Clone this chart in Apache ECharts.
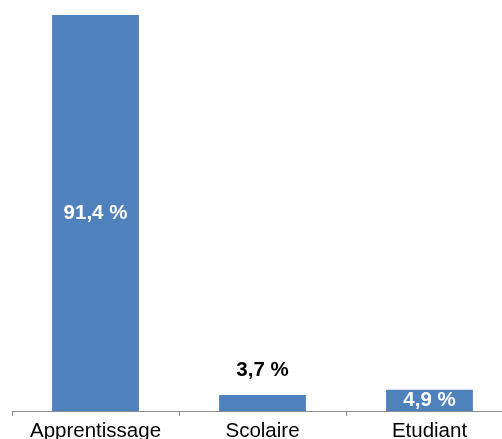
<!DOCTYPE html>
<html>
<head>
<meta charset="utf-8">
<script src="https://cdn.jsdelivr.net/npm/echarts@6/dist/echarts.min.js"></script>
<style>
  html, body { margin: 0; padding: 0; background: #fff; overflow: hidden; }
  #chart { width: 502px; height: 439px; }
</style>
</head>
<body>
<div id="chart"></div>
<script>
var categories = ["Apprentissage", "Scolaire", "Etudiant"];
var values = [91.4, 3.7, 4.9];
// labels inside the bar when it is tall enough, above it otherwise
var labelPositions = ["inside", "top", "inside"];
var labelColors = ["#fff", "#000", "#fff"];

var myChart = echarts.init(document.getElementById("chart"));

var option = {
  animation: false,
  grid: {
    left: 12,
    width: 501,
    top: 15,
    bottom: 28,
    outerBoundsMode: "none",
    containLabel: false,
  },
  xAxis: {
    type: "category",
    data: categories,
    axisLine: { lineStyle: { color: "#8c8c8c", width: 1 } },
    axisTick: { show: true, length: 5, lineStyle: { color: "#8c8c8c", width: 1 } },
    axisLabel: {
      interval: 0,
      fontFamily: "Liberation Sans",
      fontSize: 20.5,
      color: "#000",
      margin: 10,
    },
  },
  yAxis: {
    type: "value",
    min: 0,
    max: function (v) {
      return v.max;
    },
    show: false,
    splitLine: { show: false },
  },
  series: [
    {
      type: "bar",
      barWidth: "52%",
      data: values.map(function (v, i) {
        return {
          value: v,
          label: {
            position: labelPositions[i],
            color: labelColors[i],
            distance: 14,
          },
        };
      }),
      itemStyle: { color: "#4f81bd" },
      label: {
        show: true,
        fontFamily: "Liberation Sans",
        fontWeight: "bold",
        fontSize: 20.5,
        formatter: function (d) {
          return String(d.value).replace(".", ",") + " %";
        },
      },
    },
  ],
};

myChart.setOption(option, true);
</script>
</body>
</html>
